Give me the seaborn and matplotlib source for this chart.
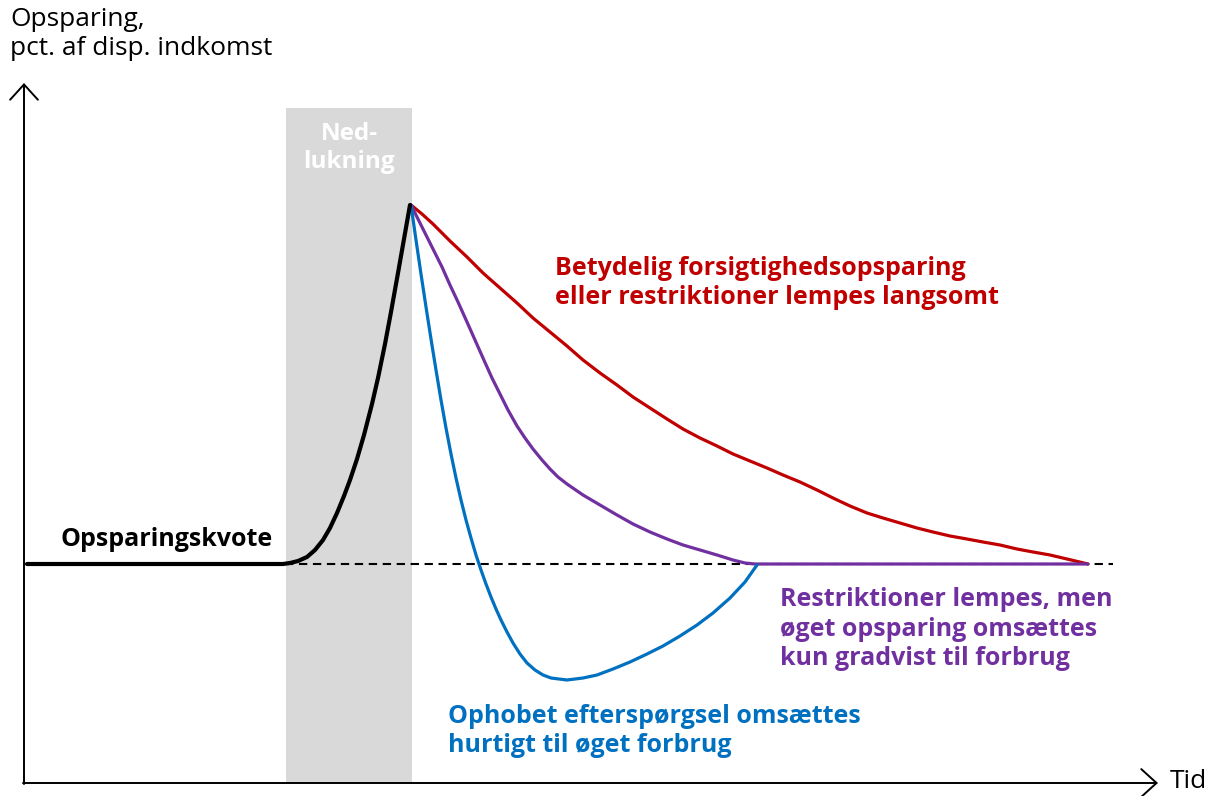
import numpy as np
import pandas as pd
import matplotlib.pyplot as plt
import seaborn as sns

# ===== DATA (time vs. savings rate, schematic units) =====
baseline = 219

black_t = [3, 259, 266, 274, 283, 291, 299, 306, 313, 320, 326, 333, 340, 348, 354,
           361, 367, 374, 380, 386]
black_s = [219, 219, 220, 222, 226, 233, 243, 255, 270, 287, 303, 324, 348, 379, 405,
           439, 471, 510, 544, 578]

red_t = [387, 398, 409, 426, 443, 459, 476, 493, 509, 526, 543, 559, 576, 593, 609,
         626, 643, 659, 676, 693, 709, 726, 743, 759, 776, 793, 809, 826, 843, 859,
         876, 893, 909, 926, 943, 959, 976, 993, 1009, 1026, 1043, 1064]
red_s = [578, 569, 559, 542, 526, 510, 495, 480, 465, 451, 437, 423, 410, 398, 386,
         375, 364, 354, 345, 337, 329, 322, 315, 308, 301, 293, 285, 277, 270, 265,
         260, 255, 251, 247, 244, 241, 238, 234, 231, 228, 224, 219]

purple_t = [387, 398, 409, 418, 426, 434, 443, 451, 459, 468, 476, 484, 493, 501, 509,
            518, 526, 534, 543, 559, 576, 593, 609, 626, 643, 659, 676, 693, 709, 721,
            731, 1064]
purple_s = [578, 556, 534, 516, 498, 481, 461, 443, 425, 405, 389, 373, 357, 345, 334,
            323, 314, 306, 299, 288, 278, 268, 259, 251, 244, 238, 233, 228, 223, 220,
            219, 219]

blue_t = [387, 392, 397, 402, 407, 412, 417, 422, 427, 432, 437, 442, 447, 452, 457,
          462, 467, 472, 477, 483, 489, 496, 503, 511, 519, 527, 535, 543, 551, 559,
          573, 589, 606, 623, 639, 656, 673, 689, 706, 721, 733]
blue_s = [578, 543, 509, 476, 444, 413, 383, 355, 329, 305, 283, 263, 245, 228, 213,
          199, 186, 174, 163, 151, 140, 129, 120, 113, 108, 105, 104, 103, 104, 105,
          108, 114, 121, 129, 137, 147, 158, 170, 185, 201, 218]

lockdown = (262, 388)
lockdown_top = 675

RED = "#c00000"
PURPLE = "#7030a0"
BLUE = "#0070c0"
GREY = "#d9d9d9"

# ===== PLOT =====
sns.set_theme(style="white")
plt.rcParams["font.family"] = ["Open Sans", "DejaVu Sans"]
plt.rcParams["text.color"] = "black"

fig = plt.figure(figsize=(12.18, 7.96), dpi=100)
ax = fig.add_axes([0, 0, 1, 1])
ax.set_xlim(-24, 1194)
ax.set_ylim(-13, 783)
ax.axis("off")

# lockdown band
ax.fill_between(lockdown, 0, lockdown_top, color=GREY, lw=0, zorder=0)
ax.text(np.mean(lockdown), 635, "Ned-\nlukning", color="white", fontsize=17.5,
        fontweight="bold", ha="center", va="center", linespacing=1.2)

# baseline (dashed)
ax.plot([261, 1089], [baseline, baseline], color="black", lw=1.5,
        dashes=(4, 2.7), zorder=1)

curves = [
    (red_t, red_s, RED, 2.3),
    (purple_t, purple_s, PURPLE, 2.3),
    (blue_t, blue_s, BLUE, 2.3),
    (black_t, black_s, "black", 3.0),
]
for t, s, col, lw in curves:
    df = pd.DataFrame({"t": t, "s": s})
    sns.lineplot(data=df, x="t", y="s", color=col, linewidth=lw, sort=False,
                 estimator=None, ax=ax, zorder=3, solid_joinstyle="round",
                 solid_capstyle="round")

# axes with open arrow heads
arrow = dict(arrowstyle="->,head_length=0.55,head_width=0.5", lw=1.4,
             color="black", mutation_scale=20, shrinkA=0, shrinkB=0)
ax.annotate("", xy=(0, 700), xytext=(0, -1), arrowprops=arrow)
ax.annotate("", xy=(1134, 0), xytext=(-1, 0), arrowprops=arrow)
ax.text(1146, 1, "Tid", fontsize=19, ha="left", va="center")

ax.text(-14, 749, "Opsparing,\npct. af disp. indkomst", fontsize=19,
        ha="left", va="center", linespacing=1.2)

ax.text(36, 243, "Opsparingskvote", fontsize=18, fontweight="bold",
        ha="left", va="center")
ax.text(531, 500, "Betydelig forsigtighedsopsparing\neller restriktioner lempes langsomt",
        color=RED, fontsize=18, fontweight="bold", ha="left", va="center",
        linespacing=1.2)
ax.text(756, 154, "Restriktioner lempes, men\nøget opsparing omsættes\nkun gradvist til forbrug",
        color=PURPLE, fontsize=18, fontweight="bold", ha="left", va="center",
        linespacing=1.22)
ax.text(424, 52, "Ophobet efterspørgsel omsættes\nhurtigt til øget forbrug",
        color=BLUE, fontsize=18, fontweight="bold", ha="left", va="center",
        linespacing=1.2)

fig.savefig("out.png", dpi=100, facecolor="white")
